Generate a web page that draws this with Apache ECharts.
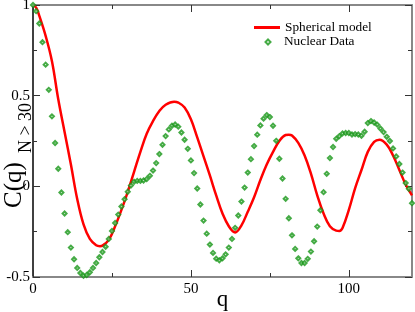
<!DOCTYPE html>
<html>
<head>
<meta charset="utf-8">
<script src="https://cdn.jsdelivr.net/npm/echarts@6/dist/echarts.min.js"></script>
<style>html,body{margin:0;padding:0;background:#fff}#c{width:415px;height:312px}</style>
</head>
<body>
<div id="c"></div>
<script>
// Spherical model curve: [q, C(q)]
const sphericalModel = [
  [0,1.0],[1,0.985],[2,0.94],[4,0.83],[6,0.69],[8,0.48],[10,0.30],[12,0.12],[14,-0.07],[16,-0.21],
  [18,-0.29],[20,-0.325],[21.2,-0.33],[22,-0.327],[24,-0.295],[26,-0.22],[28,-0.13],[30,-0.03],[32,0.08],
  [34,0.19],[36,0.29],[38,0.36],[40,0.415],[42,0.45],[44.7,0.467],[46,0.462],[48,0.435],[50,0.37],
  [52,0.27],[54,0.165],[56,0.06],[58,-0.05],[60,-0.15],[62,-0.22],[64,-0.254],[66,-0.215],[68,-0.14],
  [70,-0.06],[72,0.035],[74,0.12],[76,0.19],[78,0.25],[80,0.283],[81,0.285],[82,0.28],[84,0.24],
  [86,0.17],[88,0.07],[90,-0.05],[92,-0.15],[94,-0.22],[96,-0.244],[97,-0.246],[98,-0.23],[100,-0.13],
  [102,-0.01],[104,0.09],[106,0.19],[108,0.245],[109.7,0.257],[112,0.23],[114,0.17],[116,0.09],
  [118,0.01],[120,-0.05]
];
// Nuclear data, q = 0..120
const nuclearQ = Array.from({length:121}, (_, i) => i);
const nuclearC = [
  1.0,0.966,0.898,0.795,0.671,0.532,0.386,0.239,0.097,-0.034,
  -0.150,-0.253,-0.338,-0.402,-0.450,-0.478,-0.493,-0.489,-0.474,-0.450,
  -0.423,-0.391,-0.362,-0.333,-0.290,-0.246,-0.202,-0.156,-0.111,-0.071,
  -0.030,0.004,0.025,0.030,0.030,0.032,0.040,0.058,0.087,0.128,
  0.178,0.229,0.277,0.314,0.334,0.341,0.329,0.297,0.257,0.207,
  0.143,0.073,-0.012,-0.100,-0.189,-0.261,-0.321,-0.367,-0.399,-0.408,
  -0.397,-0.375,-0.338,-0.290,-0.229,-0.161,-0.084,-0.007,0.076,0.150,
  0.222,0.285,0.336,0.373,0.393,0.382,0.334,0.251,0.152,0.043,
  -0.069,-0.176,-0.270,-0.345,-0.397,-0.423,-0.423,-0.400,-0.360,-0.303,
  -0.222,-0.132,-0.032,0.069,0.156,0.217,0.262,0.277,0.292,0.294,
  0.294,0.286,0.288,0.286,0.279,0.301,0.349,0.360,0.352,0.340,
  0.319,0.299,0.273,0.250,0.209,0.165,0.123,0.076,0.018,-0.014,
  -0.093
];
const xMajorTicks = [0, 50, 100];
const xMinorTicks = [25, 75];
const yTicks = [-0.5, 0, 0.5, 1];

const serif = 'Liberation Serif';
const green = '#169616';
const chart = echarts.init(document.getElementById('c'), null, {renderer:'canvas'});

function xAx(pos, ticks, len, line, labels) {
  return {
    type:'value', min:0, max:120, position:pos,
    axisLine:{show:line, onZero:false, lineStyle:{color:'#888', width:2}},
    axisTick:{show:true, inside:true, length:len, customValues:ticks, lineStyle:{color:'#333', width:1}},
    axisLabel:{show:labels, customValues:ticks, fontSize:15, fontFamily:serif, color:'#000', margin:5},
    splitLine:{show:false}
  };
}
const xAxes = [
  Object.assign(xAx('bottom', xMajorTicks, 7, true, true), {
    name:'q', nameLocation:'middle', nameGap:11, nameMoveOverlap:false,
    nameTextStyle:{fontSize:23, fontFamily:serif, color:'#000'}
  }),
  xAx('bottom', xMinorTicks, 4, false, false),
  xAx('top', xMajorTicks, 7, true, false),
  xAx('top', xMinorTicks, 4, false, false)
];
function yAx(pos, labels, color, width) {
  return {
    type:'value', min:-0.5, max:1, interval:0.5, position:pos,
    axisLine:{show:true, onZero:false, lineStyle:{color:color, width:width}},
    axisTick:{show:true, inside:true, length:7, lineStyle:{color:'#333', width:1}},
    minorTick:{show:true, splitNumber:2, length:4, lineStyle:{color:'#333', width:1}},
    axisLabel:{show:labels, customValues:yTicks, fontSize:15, fontFamily:serif, color:'#000', margin:3},
    splitLine:{show:false}
  };
}

chart.setOption({
  animation:false,
  backgroundColor:'#fff',
  grid:{left:33, top:5, right:3, bottom:35, containLabel:false, outerBoundsMode:'none'},
  xAxis:xAxes,
  yAxis:[yAx('left', true, '#000', 1.5), yAx('right', false, '#888', 2)],
  legend:[
    {data:[{name:'Spherical model', icon:'rect'}], orient:'vertical', left:254, top:21, padding:0,
     itemWidth:26, itemHeight:3, itemGap:0, textStyle:{fontFamily:serif, fontSize:13.3, color:'#000'}},
    {data:[{name:'Nuclear Data', icon:'emptyDiamond'}], orient:'vertical', left:264.5, top:35.5, padding:0,
     itemWidth:5, itemHeight:5, itemGap:0, itemStyle:{borderWidth:1.5},
     textStyle:{fontFamily:serif, fontSize:13.3, color:'#000', padding:[0,0,0,8.5]}}
  ],
  graphic:[
    {type:'text', x:14, y:185, rotation:Math.PI/2,
     style:{text:'C(q)', font:'25px "Liberation Serif"', fill:'#000', textAlign:'center', textVerticalAlign:'middle'}},
    {type:'text', x:26, y:128, rotation:Math.PI/2,
     style:{text:'N > 30', font:'18px "Liberation Serif"', fill:'#000', textAlign:'center', textVerticalAlign:'middle'}}
  ],
  series:[
    {name:'Spherical model', type:'line', xAxisIndex:0, yAxisIndex:0, data:sphericalModel,
     smooth:0.4, symbol:'none', lineStyle:{color:'#ff0000', width:2.5}, itemStyle:{color:'#ff0000'}, z:2},
    {name:'Nuclear Data', type:'scatter', xAxisIndex:0, yAxisIndex:0,
     data:nuclearQ.map((q, i) => [q, nuclearC[i]]),
     symbol:'emptyDiamond', symbolSize:4, itemStyle:{color:green, borderColor:green, borderWidth:1.5}, z:3}
  ]
});
</script>
</body>
</html>
